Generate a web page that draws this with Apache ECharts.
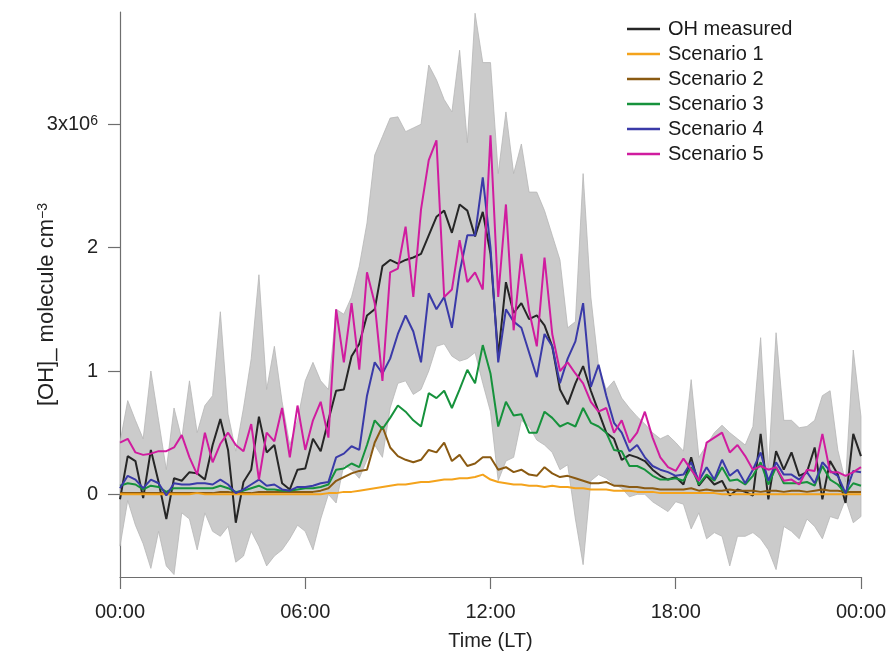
<!DOCTYPE html>
<html>
<head>
<meta charset="utf-8">
<script src="https://cdn.jsdelivr.net/npm/echarts@6/dist/echarts.min.js"></script>
<style>
  html, body { margin: 0; padding: 0; background: #fff; }
  #chart { width: 889px; height: 656px; }
</style>
</head>
<body>
<div id="chart"></div>
<script>
// [OH] in units of 1e6 molecule cm-3, one value every 15 min from 00:00 to 24:00
const ohMeasured = [
  -0.04, 0.31, 0.27, -0.03,  0.36, 0.10, -0.20, 0.13,  0.11, 0.18, 0.17, 0.12,
  0.40, 0.61, 0.36, -0.23,  0.10, 0.20, 0.63, 0.34,  0.40, 0.09, 0.04, 0.20,
  0.21, 0.45, 0.35, 0.60,  0.84, 0.85, 1.12, 1.22,  1.45, 1.50, 1.85, 1.90,
  1.87, 1.90, 1.92, 1.95,  2.10, 2.25, 2.30, 2.12,  2.35, 2.30, 2.09, 2.29,
  1.95, 1.12, 1.72, 1.47,  1.55, 1.42, 1.45, 1.37,  1.20, 0.85, 0.73, 0.90,
  1.04, 0.84, 0.67, 0.50,  0.45, 0.28, 0.32, 0.30,  0.27, 0.20, 0.15, 0.12,
  0.14, 0.08, 0.30, 0.07,  0.15, 0.08, 0.11, -0.01,  0.04, 0.02, -0.01, 0.49,
  -0.04, 0.35, 0.20, 0.34,  0.15, 0.18, 0.38, -0.04,  0.27, 0.16, -0.07, 0.49,
  0.31
]
const scenario1 = [
  0.00, 0.00, 0.00, 0.00,  0.00, 0.00, 0.00, 0.00,  0.00, 0.00, 0.01, 0.00,
  0.00, 0.00, 0.00, 0.00,  0.00, 0.00, 0.00, 0.00,  0.00, 0.00, 0.00, 0.00,
  0.00, 0.00, 0.00, 0.01,  0.01, 0.02, 0.02, 0.03,  0.04, 0.05, 0.06, 0.07,
  0.08, 0.08, 0.09, 0.10,  0.10, 0.11, 0.12, 0.12,  0.13, 0.13, 0.14, 0.16,
  0.12, 0.10, 0.09, 0.08,  0.08, 0.07, 0.07, 0.06,  0.07, 0.06, 0.06, 0.05,
  0.05, 0.04, 0.04, 0.04,  0.03, 0.03, 0.03, 0.02,  0.02, 0.02, 0.01, 0.01,
  0.01, 0.01, 0.01, 0.01,  0.01, 0.01, 0.00, 0.00,  0.00, 0.00, 0.00, 0.00,
  0.00, 0.00, 0.00, 0.00,  0.00, 0.00, 0.00, 0.00,  0.00, 0.00, 0.00, 0.00,
  0.00
]
const scenario2 = [
  0.01, 0.01, 0.01, 0.01,  0.01, 0.01, 0.01, 0.01,  0.01, 0.01, 0.01, 0.01,
  0.01, 0.02, 0.02, 0.01,  0.01, 0.01, 0.02, 0.02,  0.02, 0.02, 0.02, 0.02,
  0.02, 0.02, 0.03, 0.05,  0.11, 0.14, 0.17, 0.19,  0.20, 0.42, 0.55, 0.38,
  0.31, 0.28, 0.26, 0.28,  0.36, 0.34, 0.42, 0.27,  0.32, 0.23, 0.25, 0.30,
  0.30, 0.20, 0.22, 0.18,  0.20, 0.16, 0.15, 0.22,  0.17, 0.14, 0.15, 0.13,
  0.11, 0.09, 0.09, 0.10,  0.07, 0.07, 0.06, 0.06,  0.05, 0.05, 0.04, 0.04,
  0.04, 0.04, 0.05, 0.03,  0.04, 0.03, 0.03, 0.04,  0.03, 0.03, 0.03, 0.02,
  0.03, 0.03, 0.02, 0.03,  0.03, 0.02, 0.03, 0.04,  0.03, 0.03, 0.02, 0.02,
  0.02
]
const scenario3 = [
  0.07, 0.09, 0.08, 0.04,  0.07, 0.06, 0.02, 0.05,  0.05, 0.05, 0.05, 0.05,
  0.05, 0.07, 0.05, 0.02,  0.03, 0.05, 0.07, 0.04,  0.04, 0.03, 0.03, 0.04,
  0.05, 0.05, 0.06, 0.08,  0.20, 0.21, 0.25, 0.22,  0.40, 0.60, 0.53, 0.62,
  0.72, 0.67, 0.60, 0.55,  0.82, 0.78, 0.84, 0.70,  0.85, 1.01, 0.90, 1.21,
  0.98, 0.55, 0.75, 0.64,  0.65, 0.50, 0.50, 0.67,  0.62, 0.55, 0.58, 0.55,
  0.70, 0.58, 0.55, 0.50,  0.36, 0.35, 0.23, 0.23,  0.20, 0.15, 0.12, 0.12,
  0.13, 0.11, 0.22, 0.08,  0.16, 0.11, 0.22, 0.11,  0.12, 0.08, 0.15, 0.26,
  0.08, 0.22, 0.09, 0.09,  0.09, 0.10, 0.07, 0.23,  0.12, 0.08, 0.01, 0.09,
  0.07
]
const scenario4 = [
  0.05, 0.15, 0.12, 0.05,  0.12, 0.09, -0.01, 0.09,  0.08, 0.08, 0.09, 0.09,
  0.08, 0.12, 0.08, 0.01,  0.04, 0.08, 0.12, 0.07,  0.08, 0.04, 0.03, 0.06,
  0.06, 0.07, 0.09, 0.10,  0.30, 0.33, 0.39, 0.36,  0.80, 1.07, 0.98, 1.10,
  1.30, 1.45, 1.32, 1.07,  1.63, 1.50, 1.60, 1.35,  1.80, 2.10, 2.10, 2.57,
  2.00, 1.07, 1.50, 1.40,  1.35, 1.15, 0.95, 1.30,  1.20, 0.90, 1.10, 1.24,
  1.55, 0.87, 1.05, 0.80,  0.58, 0.50, 0.35, 0.40,  0.30, 0.23, 0.20, 0.18,
  0.15, 0.16, 0.26, 0.11,  0.22, 0.12, 0.28, 0.15,  0.20, 0.09, 0.20, 0.34,
  0.11, 0.26, 0.16, 0.16,  0.12, 0.18, 0.09, 0.26,  0.19, 0.15, 0.01, 0.19,
  0.18
]
const scenario5 = [
  0.42, 0.45, 0.34, 0.32,  0.33, 0.35, 0.35, 0.38,  0.48, 0.30, 0.16, 0.50,
  0.26, 0.41, 0.50, 0.40,  0.35, 0.57, 0.12, 0.50,  0.43, 0.70, 0.30, 0.72,
  0.36, 0.60, 0.75, 0.46,  1.50, 1.07, 1.55, 1.01,  1.80, 1.55, 0.92, 1.80,
  1.83, 2.17, 1.60, 2.31,  2.71, 2.87, 1.60, 1.66,  2.06, 1.72, 1.80, 1.66,
  2.91, 1.60, 2.35, 1.33,  1.95, 1.49, 1.20, 1.92,  1.30, 1.00, 1.07, 0.98,
  0.90, 0.75, 0.67, 0.70,  0.50, 0.60, 0.42, 0.50,  0.67, 0.46, 0.30, 0.22,
  0.19, 0.29, 0.20, 0.11,  0.42, 0.46, 0.50, 0.34,  0.40, 0.31, 0.20, 0.23,
  0.20, 0.22, 0.11, 0.12,  0.08, 0.20, 0.19, 0.49,  0.18, 0.18, 0.15, 0.18,
  0.22
]
// uncertainty of the measurement (grey band)
const bandUpper = [
  0.42, 0.76, 0.60, 0.45,  1.00, 0.60, 0.20, 0.70,  0.45, 0.92, 0.50, 0.72,
  0.80, 1.48, 0.65, 0.35,  0.70, 1.10, 1.78, 0.85,  1.20, 0.75, 0.40, 0.60,
  0.92, 1.07, 0.92, 0.85,  1.50, 1.46, 1.60, 1.85,  2.20, 2.75, 2.90, 3.05,
  3.06, 2.94, 2.97, 3.00,  3.48, 3.36, 3.20, 3.10,  3.60, 2.85, 3.90, 3.50,
  3.50, 2.60, 3.10, 2.60,  2.84, 2.45, 2.45, 2.30,  2.10, 1.90, 1.35, 1.40,
  2.60, 1.60, 1.04, 0.85,  0.92, 0.78, 0.70, 0.63,  0.57, 0.50, 0.45, 0.48,
  0.42, 0.35, 0.93, 0.30,  0.40, 0.50, 0.56, 0.50,  0.45, 0.40, 0.55, 1.27,
  0.20, 1.31, 0.60, 0.60,  0.54, 0.55, 0.60, 0.80,  0.84, 0.36, 0.10, 1.17,
  0.63
]
const bandLower = [
  -0.42, -0.05, -0.25, -0.40,  -0.60, -0.30, -0.58, -0.65,  -0.15, -0.20, -0.45, -0.15,
  -0.30, -0.34, -0.26, -0.55,  -0.50, -0.30, -0.42, -0.58,  -0.50, -0.45, -0.36, -0.25,
  -0.30, -0.45, -0.20, 0.00,  -0.07, 0.24, 0.20, 0.13,  0.28, 0.40, 0.30, 0.70,
  0.90, 0.92, 0.81, 0.85,  1.00, 1.20, 1.22, 1.12,  1.08, 1.10, 1.15, 0.90,
  0.67, 0.11, 0.27, 0.30,  0.60, 0.55, 0.44, 0.40,  0.34, 0.20, 0.24, -0.20,
  -0.57, 0.11, 0.16, 0.13,  0.08, 0.05, -0.02, 0.00,  0.00, -0.06, -0.10, -0.14,
  -0.06, -0.08, -0.28, -0.15,  -0.36, -0.31, -0.34, -0.58,  -0.34, -0.34, -0.31, -0.36,
  -0.45, -0.61, -0.26, -0.30,  -0.36, -0.20, -0.26, -0.36,  -0.18, -0.20, -0.04, -0.23,
  -0.18
]
const xTicks = [0, 6, 12, 18, 24]
const yTicks = [0, 1, 2, 3]

const times = ohMeasured.map((_, i) => i / 4)
const pairs = arr => times.map((t, i) => [t, arr[i]])
const font = "Liberation Sans, Arial, Helvetica, sans-serif"
const axisGrey = "#6e6e6e"

const lines = [
  { name: "OH measured", data: ohMeasured, color: "#262626" },
  { name: "Scenario 2", data: scenario2, color: "#8a5a12" },
  { name: "Scenario 1", data: scenario1, color: "#f4a31c" },
  { name: "Scenario 3", data: scenario3, color: "#16923c" },
  { name: "Scenario 4", data: scenario4, color: "#3a3aa8" },
  { name: "Scenario 5", data: scenario5, color: "#d01c9f" }
]

// grey band: one polygon, upper edge forward then lower edge back
const renderBand = (params, api) => {
  if (params.dataIndex !== 0) return null
  const top = times.map((t, i) => api.coord([t, bandUpper[i]]))
  const bottom = times.map((t, i) => api.coord([t, bandLower[i]])).reverse()
  return {
    type: "polygon",
    shape: { points: top.concat(bottom) },
    style: { fill: "#cbcbcb", stroke: "#b6b6b6", lineWidth: 0.8 }
  }
}

const chart = echarts.init(document.getElementById("chart"))
chart.setOption({
  animation: false,
  backgroundColor: "#fff",
  textStyle: { fontFamily: font },
  grid: { left: 120, right: 28, top: 12, bottom: 78 },
  legend: {
    data: ["OH measured", "Scenario 1", "Scenario 2", "Scenario 3", "Scenario 4", "Scenario 5"],
    orient: "vertical",
    left: 627,
    top: 19,
    icon: "rect",
    itemWidth: 33,
    itemHeight: 2.5,
    itemGap: 5,
    padding: 0,
    textStyle: { fontSize: 20, color: "#1a1a1a", fontFamily: font, padding: [0, 0, 0, 3] }
  },
  xAxis: {
    type: "value",
    min: 0,
    max: 24,
    interval: 6,
    name: "Time (LT)",
    nameLocation: "middle",
    nameGap: 54,
    nameMoveOverlap: false,
    nameTextStyle: { fontSize: 20, color: "#222", fontFamily: font },
    axisLine: { onZero: false, lineStyle: { color: axisGrey, width: 1.2 } },
    axisTick: { length: 12, lineStyle: { color: axisGrey, width: 1.2 } },
    axisLabel: {
      margin: 25,
      fontSize: 20,
      color: "#222",
      formatter: v => (xTicks.includes(v) ? String(v % 24).padStart(2, "0") + ":00" : "")
    },
    splitLine: { show: false }
  },
  yAxis: {
    type: "value",
    min: -0.67,
    max: 3.91,
    name: "[OH]_ molecule cm{sup|−3}",
    nameLocation: "middle",
    nameRotate: 90,
    nameGap: 62,
    nameMoveOverlap: false,
    nameTextStyle: {
      fontSize: 22, color: "#222", fontFamily: font,
      padding: [0, 20, 0, 0],
      rich: { sup: { fontSize: 14, verticalAlign: "top", color: "#222", fontFamily: font } }
    },
    axisLine: { onZero: false, lineStyle: { color: axisGrey, width: 1.2 } },
    axisTick: { length: 12, customValues: yTicks, lineStyle: { color: axisGrey, width: 1.2 } },
    axisLabel: {
      margin: 22,
      fontSize: 20,
      color: "#222",
      customValues: yTicks,
      formatter: v => (v === 3 ? "3x10{sup|6}" : String(v)),
      rich: { sup: { fontSize: 14, verticalAlign: "top", color: "#222", fontFamily: font } }
    },
    splitLine: { show: false }
  },
  series: [
    {
      type: "custom",
      data: times.map((t, i) => [t, bandLower[i], bandUpper[i]]),
      encode: { x: 0, y: [1, 2] },
      renderItem: renderBand,
      silent: true,
      z: 1
    },
    ...lines.map(s => ({
      name: s.name,
      type: "line",
      data: pairs(s.data),
      showSymbol: false,
      color: s.color,
      lineStyle: { color: s.color, width: 2 },
      z: 2
    }))
  ]
})
</script>
</body>
</html>
